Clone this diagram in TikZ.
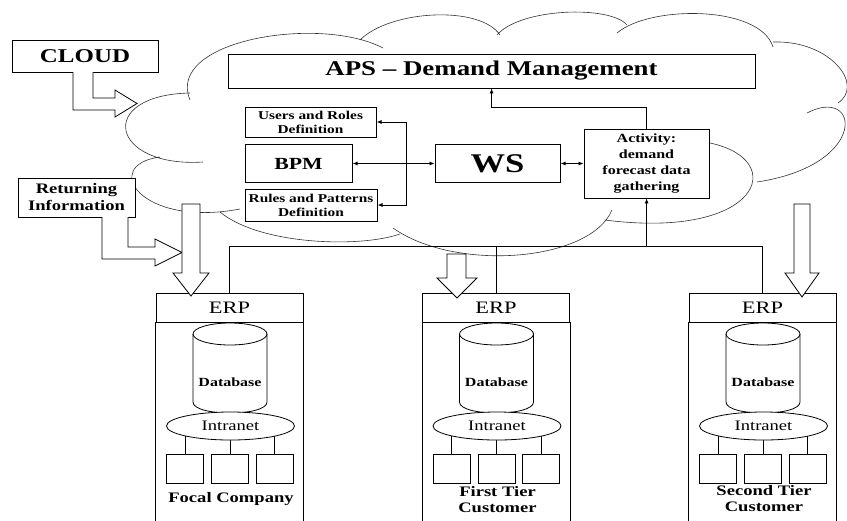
\documentclass[tikz,border=0pt]{standalone}
\usepackage{fontspec}
\setmainfont{Liberation Serif}
\usetikzlibrary{arrows.meta,shapes.geometric,backgrounds}

\tikzset{
  box/.style={draw, fill=white, inner sep=1pt, align=center},
  cloudline/.style={line width=0.6pt, black!80},
  hollow/.style={draw, fill=white},
  conn/.style={-{Latex[length=5pt,width=4pt]}},
  biconn/.style={{Latex[length=5pt,width=4pt]}-{Latex[length=5pt,width=4pt]}},
}

\begin{document}
\begin{tikzpicture}[x=0.78125pt, y=-1pt, xscale=1.28, line width=0.8pt,
    every node/.append style={transform shape}]
  \useasboundingbox (0,0) rectangle (847,520);
  % cloud
  \draw[cloudline] (190,100) .. controls (165,40) and (320,15) .. (383,48)
    (360,40) .. controls (390,10) and (480,5) .. (500,35)
    (497,35) .. controls (520,8) and (610,5) .. (627,25)
    (617,33) .. controls (650,5) and (760,5) .. (773,47)
    (773,42) .. controls (830,40) and (865,85) .. (838,103)
    (807,113) .. controls (860,85) and (870,165) .. (757,182)
    (710,143) .. controls (790,160) and (760,240) .. (605,220)
    (612,210) .. controls (590,262) and (455,272) .. (393,228)
    (400,234) .. controls (360,248) and (260,245) .. (220,212)
    (240,209) .. controls (140,228) and (100,165) .. (160,157)
    (203,162) .. controls (110,168) and (95,95) .. (190,93);

  \node[box, minimum width=114pt, minimum height=32pt, font=\bfseries\fontsize{19.5}{22}\selectfont] (cloudlbl) at (85,56) {CLOUD};
  \node[box, minimum width=91.4pt, minimum height=39pt, font=\bfseries\fontsize{14.5}{17}\selectfont] (retinfo) at (76.5,197.5) {Returning\\Information};
  \node[box, minimum width=411.7pt, minimum height=34pt, font=\bfseries\fontsize{21}{24}\selectfont] (aps) at (491.5,71) {APS – Demand Management};
  \node[box, minimum width=102.3pt, minimum height=30pt, font=\bfseries\fontsize{12}{14}\selectfont] (users) at (310.5,122) {Users and Roles\\Definition};
  \node[box, minimum width=83.6pt, minimum height=38pt, font=\bfseries\fontsize{17}{20}\selectfont] (bpm) at (298.5,163.5) {BPM};
  \node[box, minimum width=103.1pt, minimum height=32pt, font=\bfseries\fontsize{12}{14}\selectfont] (rules) at (311,205) {Rules and Patterns\\Definition};
  \node[box, minimum width=97.7pt, minimum height=38pt, font=\bfseries\fontsize{27}{30}\selectfont] (ws) at (497.5,163.5) {WS};
  \node[box, minimum width=97.7pt, minimum height=69pt, font=\bfseries\fontsize{12.5}{16}\selectfont] (act) at (646.5,163.5) {Activity:\\demand\\forecast data\\gathering};
  \coordinate (brk) at (406,163.5);

  \draw[biconn] (bpm.east) -- (ws.west);
  \draw[biconn] (users.east) -| (brk) |- (rules.east);
  \draw[biconn] (ws.east) -- (act.west);
  \draw[conn] (act.north) -- ++(0,-21) -| (aps.south);

  % the three companies
  \foreach \dx/\n/\lbl/\ly in {0/a/{Focal Company}/499, 266.5/b/{First Tier\\Customer}/500, 533/c/{Second Tier\\Customer}/499} {
    \node[box, fill=none, minimum width=114.8pt, minimum height=29pt, font=\fontsize{17.5}{20}\selectfont] (erp\n) at (229.5+\dx,307.5) {ERP};
    \draw (erp\n.south west) -- ++(0,200) (erp\n.south east) -- ++(0,200);
    \draw[fill=white] (193+\dx,334) -- (193+\dx,402) .. controls (193+\dx,416.7) and (267+\dx,416.7) .. (267+\dx,402) -- (267+\dx,334);
    \draw (230+\dx,334) ellipse [x radius=37, y radius=11];
    \node[font=\bfseries\fontsize{12.5}{14}\selectfont] (db\n) at (230+\dx,382) {Database};
    \node[draw, fill=white, ellipse, inner sep=0pt, minimum width=100pt, minimum height=28pt, font=\fontsize{14.5}{16}\selectfont] (intr\n) at (230.5+\dx,426) {Intranet};
    \foreach \k/\px in {1/185, 2/230, 3/274.5}
      \node[draw, minimum width=28.9pt, minimum height=29pt] (pc\n\k) at (\px+\dx,468.5) {};
    \begin{scope}[on background layer]
      \foreach \k in {1,2,3} \draw (pc\n\k.north) -- (pc\n\k.north |- intr\n.center);
    \end{scope}
    \node[font=\bfseries\fontsize{14.5}{16}\selectfont, align=center] (lbl\n) at (231+\dx,\ly) {\lbl};
  }

  \draw (erpa.north) -- ++(0,-46) coordinate (busl) -- (busl -| erpc.north) -- (erpc.north);
  \draw (erpb.north) -- (erpb.north |- busl);
  \draw[conn] (busl -| act.south) -- (act.south);

  % hollow arrows
  \draw[hollow] (73,72) -- (73,110) -- (115,110) -- (115,117) -- (137,103.5) -- (115,90) -- (115,98) -- (93,98) -- (93,72);
  \draw[hollow] (102,217) -- (102,259) -- (155,259) -- (155,266) -- (182,252.5) -- (155,239) -- (155,247) -- (128,247) -- (128,217);
  \draw[hollow] (182,204) -- (182,273) -- (173,273) -- (191,296) -- (209,273) -- (200,273) -- (200,204) -- cycle;
  \draw[hollow] (447,254) -- (447,278) -- (437,278) -- (457,298) -- (477,278) -- (466,278) -- (466,254) -- cycle;
  \draw[hollow] (794,204) -- (794,273) -- (785,273) -- (802,297) -- (819,273) -- (810,273) -- (810,204) -- cycle;
\end{tikzpicture}
\end{document}
